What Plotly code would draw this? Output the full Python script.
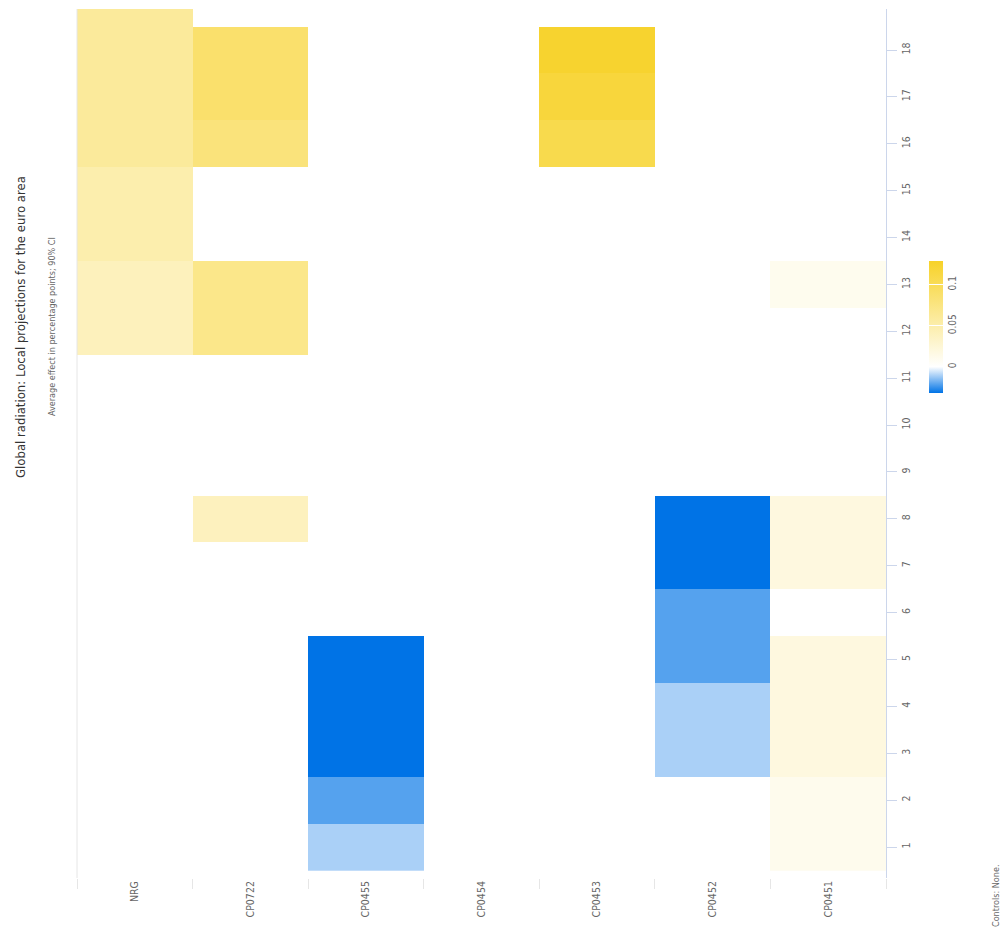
import plotly.graph_objects as go

categories = ["NRG", "CP0722", "CP0455", "CP0454", "CP0453", "CP0452", "CP0451"]
horizons = list(range(1, 20))
tick_horizons = list(range(1, 19))

N = None
nrg    = [N, N, N, N, N, N, N, N, N, N, N, 0.040, 0.040, 0.049, 0.049, 0.060, 0.060, 0.060, 0.060]
cp0722 = [N, N, N, N, N, N, N, 0.039, N, N, N, 0.070, 0.070, N, N, 0.079, 0.088, 0.088, N]
cp0455 = [-0.0107, -0.0213, -0.032, -0.032, -0.032, N, N, N, N, N, N, N, N, N, N, N, N, N, N]
cp0454 = [N] * 19
cp0453 = [N, N, N, N, N, N, N, N, N, N, N, N, N, N, N, 0.107, 0.117, 0.125, N]
cp0452 = [N, N, -0.0107, -0.0107, -0.0213, -0.0213, -0.032, -0.032, N, N, N, N, N, N, N, N, N, N, N]
cp0451 = [0.011, 0.011, 0.019, 0.019, 0.019, N, 0.019, 0.019, N, N, N, N, 0.010, N, N, N, N, N, N]

columns = [nrg, cp0722, cp0455, cp0454, cp0453, cp0452, cp0451]
z = [[col[i] for col in columns] for i in range(len(horizons))]

zmin, zmax = -0.032, 0.129
zero_frac = (0 - zmin) / (zmax - zmin)

font_family = "Liberation Sans Narrow, DejaVu Sans Condensed, sans-serif"

# page body has an 8px margin: plot area spans x 77..886, y 9..878 in the window
PW, PH = 809, 869

fig = go.Figure()
fig.add_trace(go.Heatmap(
    x=categories, y=horizons, z=z,
    zmin=zmin, zmax=zmax,
    colorscale=[[0, "#0073e6"], [zero_frac, "#ffffff"], [1, "#f7d228"]],
    hoverongaps=False,
    colorbar=dict(
        x=(929 - 77) / PW, xanchor="left",
        y=(878 - 327) / PH, yanchor="middle",
        thickness=14, thicknessmode="pixels",
        len=132, lenmode="pixels",
        outlinewidth=0,
        ticks="inside", ticklen=14, tickcolor="#ffffff", tickwidth=1,
        tickvals=[0, 0.05, 0.1], ticktext=["0", "0.05", "0.1"],
        tickangle=-90,
        tickfont=dict(family=font_family, size=10, color="#666666"),
        ypad=0, xpad=0,
    ),
))

fig.update_layout(
    width=1000, height=923,
    margin=dict(l=69, r=122, t=1, b=53, autoexpand=False),
    paper_bgcolor="white", plot_bgcolor="white",
    showlegend=False,
    font=dict(family=font_family, color="#666666"),
    xaxis=dict(
        type="category", range=[-0.5, 6.5],
        tickson="boundaries", ticks="outside", ticklen=10, tickcolor="#e6e6e6",
        showgrid=False, zeroline=False, showline=False,
        tickangle=-90,
        tickfont=dict(family=font_family, size=10.5, color="#666666"),
    ),
    yaxis=dict(
        side="right", range=[0.34, 18.875],
        tickvals=tick_horizons, ticktext=[str(h) for h in tick_horizons],
        ticks="outside", ticklen=10, tickcolor="#ccd6eb",
        showline=True, linecolor="#ccd6eb", linewidth=1,
        showgrid=False, zeroline=False,
        tickangle=-90,
        tickfont=dict(family=font_family, size=10.5, color="#666666"),
    ),
    shapes=[dict(type="line", xref="paper", yref="paper", x0=0, x1=0, y0=0, y1=1,
                 line=dict(color="#e6e6e6", width=1))],
    annotations=[
        dict(text="Global radiation: Local projections for the euro area",
             xref="paper", yref="paper", x=(20 - 77) / PW, y=(878 - 327) / PH,
             xanchor="center", yanchor="middle", textangle=-90, showarrow=False,
             font=dict(family=font_family, size=13, color="#333333")),
        dict(text="Average effect in percentage points; 90% CI",
             xref="paper", yref="paper", x=(52 - 77) / PW, y=(878 - 327) / PH,
             xanchor="center", yanchor="middle", textangle=-90, showarrow=False,
             font=dict(family=font_family, size=9, color="#666666")),
        dict(text="Controls: None.",
             xref="paper", yref="paper", x=(996 - 77) / PW, y=(878 - 896) / PH,
             xanchor="center", yanchor="middle", textangle=-90, showarrow=False,
             font=dict(family=font_family, size=9, color="#666666")),
    ],
)

fig.write_html("out.html")
